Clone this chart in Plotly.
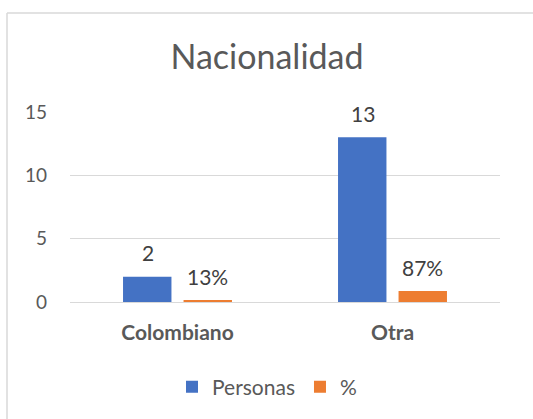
import plotly.graph_objects as go

categories = ["Colombiano", "Otra"]
personas = [2, 13]
porcentaje = [0.1333, 0.8667]
y_ticks = [0, 5, 10, 15]

FONT = "Lato"
GREY = "#595959"
BLUE = "#4472C4"
ORANGE = "#ED7D31"

fig = go.Figure()
fig.add_trace(go.Bar(name="Personas", x=categories, y=personas, marker_color=BLUE,
                     marker_line_width=0))
fig.add_trace(go.Bar(name="%", x=categories, y=porcentaje, marker_color=ORANGE,
                     marker_line_width=0))

# data labels
for i, c in enumerate(categories):
    fig.add_annotation(x=c, y=personas[i], text=str(personas[i]), showarrow=False,
                       xshift=-30, yshift=24, font=dict(family=FONT, size=21, color="#404040"))
    fig.add_annotation(x=c, y=porcentaje[i], text=f"{porcentaje[i]:.0%}", showarrow=False,
                       xshift=30, yshift=24, font=dict(family=FONT, size=21, color="#404040"))

L, R, T, B = 70, 33, 112, 117
W, H = 533, 419
pw, ph = W - L - R, H - T - B

# chart border (top and left edges visible; the rest lies outside the crop)
bx0, by_top = (7 - L) / pw, (H - B - 13) / ph
fig.add_shape(type="line", xref="paper", yref="paper",
              x0=bx0, x1=(W + 5 - L) / pw, y0=by_top, y1=by_top,
              line=dict(color="#D9D9D9", width=1.5), layer="below")
fig.add_shape(type="line", xref="paper", yref="paper",
              x0=bx0, x1=bx0, y0=by_top, y1=(H - B - H - 5) / ph,
              line=dict(color="#D9D9D9", width=1.5), layer="below")

fig.update_layout(
    width=W, height=H,
    margin=dict(l=L, r=R, t=T, b=B, autoexpand=False),
    paper_bgcolor="white", plot_bgcolor="white",
    barmode="group", bargap=0.437, bargroupgap=0.2,
    title=dict(text="Nacionalidad", x=(267) / W, xanchor="center",
               y=1 - 57 / H, yanchor="middle",
               font=dict(family=FONT, size=34, color=GREY)),
    font=dict(family=FONT, color=GREY),
    xaxis=dict(showgrid=False, showline=False, ticks="", automargin=False,
               tickfont=dict(family=FONT, size=21, color=GREY, weight="bold"),
               ticklabelstandoff=16),
    yaxis=dict(range=[0, 15], tickvals=y_ticks, showgrid=True, gridcolor="#D9D9D9",
               gridwidth=1.3, zeroline=True, zerolinecolor="#D9D9D9", zerolinewidth=1.3,
               showline=False, ticks="", automargin=False,
               tickfont=dict(family=FONT, size=19, color=GREY),
               ticklabelstandoff=22),
    legend=dict(orientation="h", x=(267 - L) / pw, xanchor="center",
                y=(H - B - 387) / ph, yanchor="middle",
                font=dict(family=FONT, size=21, color=GREY), itemwidth=30,
                traceorder="normal"),
    showlegend=True,
)

fig.write_html("out.html", config={"displayModeBar": False},
               post_script="document.body.style.margin='0';document.body.style.overflow='hidden';")
